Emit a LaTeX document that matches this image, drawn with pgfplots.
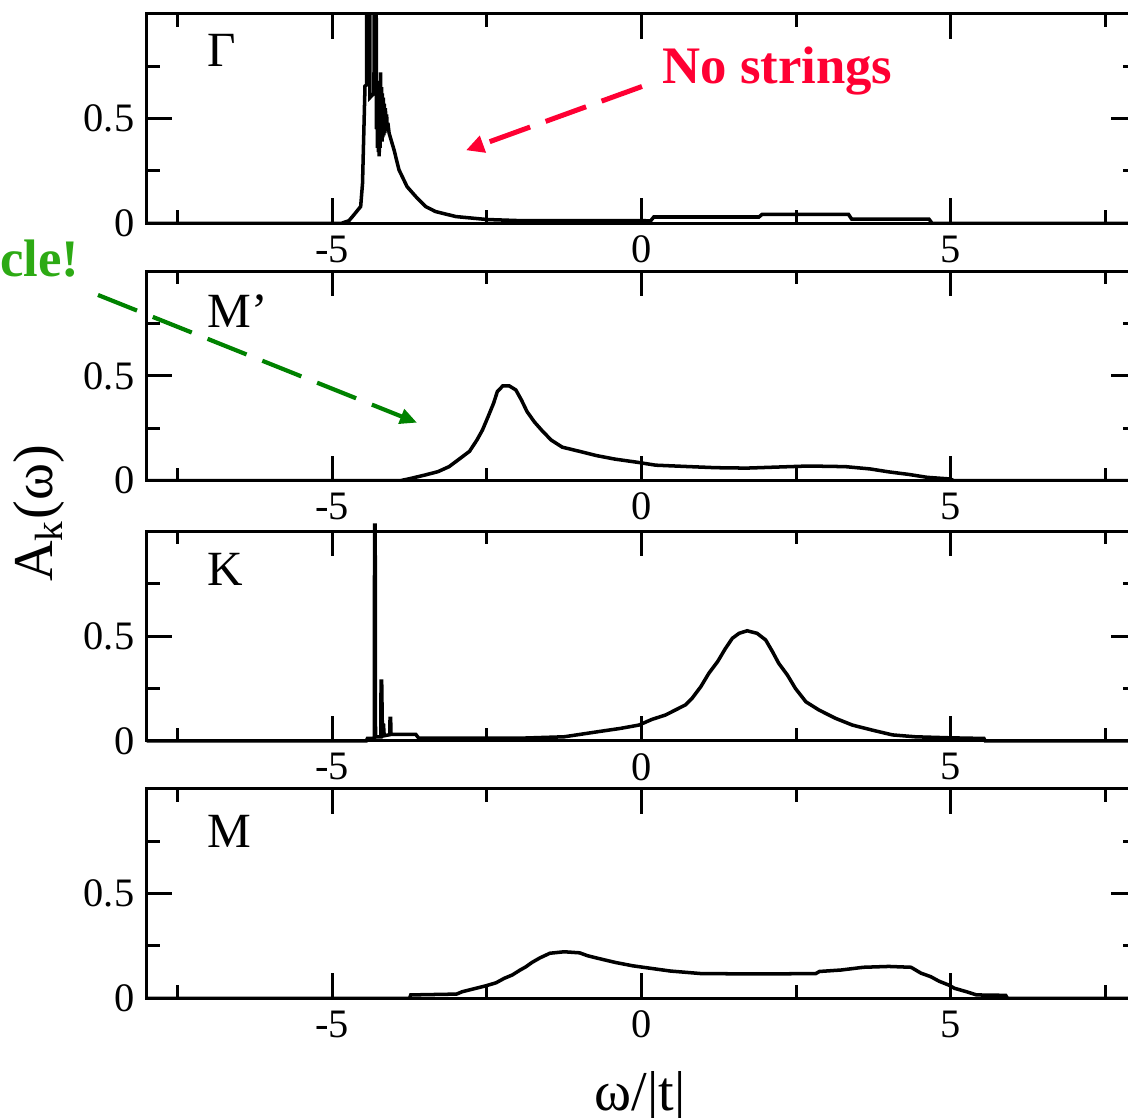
\documentclass[border=0pt]{standalone}
\usepackage{fontspec}
\setmainfont{Liberation Serif}
\usepackage{pgfplots}
\pgfplotsset{compat=1.18}
\usetikzlibrary{arrows.meta}
\definecolor{nsred}{RGB}{255,0,51}
\definecolor{qpgreen}{RGB}{45,170,20}
\definecolor{arrgreen}{RGB}{0,130,0}
\pgfplotsset{
  panel/.style={
    scale only axis, width=98.94mm, height=20.95mm,
    xmin=-8, xmax=8, ymin=0, ymax=1,
    xtick={-5,0,5}, xticklabels={-5,0,5},
    minor xtick={-7.5,-2.5,2.5,7.5},
    ytick={0,0.5}, yticklabels={0,0.5},
    minor ytick={0.25,0.75},
    major tick length=2.5mm, minor tick length=1.3mm,
    every tick/.style={line width=0.85pt, black},
    axis line style={line width=0.85pt},
    ticklabel style={font=\rmfamily\fontsize{11.5}{12}\selectfont},
    anchor=south west,
  },
  curve/.style={black, mark=none, line width=1.0pt, line join=miter},
}
\tikzset{plabel/.style={anchor=base west, font=\rmfamily\fontsize{14}{14}\selectfont, inner sep=0pt}}
\begin{document}
\begin{tikzpicture}
\path[use as bounding box, clip] (0,0) rectangle (112.8mm,111.8mm);

% Gamma
\begin{axis}[panel, at={(14.67mm,89.47mm)}]
\addplot[curve] coordinates {(-8,0) (-4.85,0) (-4.73,0.012) (-4.65,0.04) (-4.54,0.08) (-4.51,0.19) (-4.47,0.655) (-4.445,0.66) (-4.44,1.3) (-4.395,1.3) (-4.39,0.6) (-4.325,0.62) (-4.32,1.3) (-4.29,1.3) (-4.285,0.45) (-4.275,0.62) (-4.27,0.36) (-4.262,0.66) (-4.255,0.34) (-4.248,0.63) (-4.24,0.32) (-4.232,0.68) (-4.225,0.36) (-4.218,0.72) (-4.21,0.40) (-4.202,0.65) (-4.195,0.39) (-4.188,0.62) (-4.18,0.41) (-4.172,0.60) (-4.164,0.42) (-4.156,0.57) (-4.148,0.43) (-4.14,0.55) (-4.13,0.44) (-4.12,0.52) (-4.11,0.44) (-4.10,0.48) (-4.08,0.43) (-4.0,0.35) (-3.92,0.255) (-3.79,0.175) (-3.65,0.128) (-3.49,0.08) (-3.33,0.056) (-3.0,0.032) (-2.5,0.018) (-2.0,0.013) (0.15,0.012) (0.2,0.03) (1.9,0.03) (1.95,0.042) (3.35,0.042) (3.4,0.02) (4.65,0.02) (4.7,0) (8,0)};
\node[plabel] at (axis cs:-7.03,0.75) {Γ};
\end{axis}

% M'
\begin{axis}[panel, at={(14.67mm,63.73mm)}]
\addplot[curve] coordinates {(-8,0) (-3.9,0) (-3.74,0.01) (-3.5,0.027) (-3.29,0.043) (-3.11,0.067) (-2.96,0.10) (-2.78,0.14) (-2.66,0.194) (-2.57,0.242) (-2.48,0.305) (-2.39,0.37) (-2.33,0.425) (-2.24,0.453) (-2.14,0.453) (-2.03,0.433) (-1.94,0.385) (-1.85,0.33) (-1.73,0.28) (-1.61,0.24) (-1.46,0.194) (-1.28,0.16) (-1.03,0.142) (-0.73,0.12) (-0.43,0.103) (-0.07,0.088) (0.23,0.074) (0.7,0.068) (1.2,0.062) (1.7,0.06) (2.1,0.064) (2.7,0.07) (3.3,0.067) (3.7,0.056) (4.0,0.042) (4.32,0.03) (4.62,0.016) (5.0,0.008) (5.05,0) (8,0)};
\node[plabel] at (axis cs:-7.03,0.73) {M’};
\end{axis}

% K
\begin{axis}[panel, at={(14.67mm,37.7mm)}, clip=false]
\addplot[curve] coordinates {(-8,0) (-4.45,0) (-4.43,0.012) (-4.32,0.012) (-4.315,1.03) (-4.305,1.03) (-4.30,0.02) (-4.215,0.02) (-4.21,0.286) (-4.2,0.286) (-4.19,0.076) (-4.17,0.076) (-4.16,0.025) (-4.07,0.03) (-4.065,0.108) (-4.055,0.108) (-4.05,0.032) (-3.65,0.032) (-3.6,0.013) (-2,0.013) (-1.25,0.02) (-0.71,0.044) (-0.34,0.06) (-0.04,0.076) (0.17,0.103) (0.39,0.124) (0.55,0.148) (0.71,0.172) (0.82,0.204) (0.96,0.259) (1.09,0.323) (1.23,0.378) (1.36,0.442) (1.47,0.49) (1.58,0.514) (1.71,0.526) (1.87,0.514) (2.01,0.482) (2.12,0.426) (2.22,0.371) (2.36,0.315) (2.49,0.251) (2.66,0.187) (2.87,0.148) (3.14,0.108) (3.41,0.076) (3.73,0.052) (4.06,0.029) (4.43,0.02) (5.0,0.015) (5.54,0.012) (5.56,0) (8,0)};
\node[plabel] at (axis cs:-7.03,0.74) {K};
\end{axis}

% M
\begin{axis}[panel, at={(14.67mm,11.97mm)}]
\addplot[curve] coordinates {(-8,0) (-3.75,0) (-3.73,0.016) (-2.99,0.02) (-2.9,0.031) (-2.67,0.048) (-2.51,0.06) (-2.35,0.074) (-2.22,0.095) (-2.09,0.111) (-1.96,0.135) (-1.87,0.15) (-1.77,0.171) (-1.64,0.193) (-1.48,0.215) (-1.25,0.222) (-1.0,0.217) (-0.87,0.203) (-0.65,0.187) (-0.42,0.171) (-0.14,0.155) (0.15,0.143) (0.47,0.13) (0.96,0.118) (1.9,0.116) (2.82,0.118) (2.88,0.128) (3.23,0.135) (3.59,0.148) (4.0,0.152) (4.36,0.148) (4.52,0.12) (4.68,0.103) (4.81,0.082) (4.97,0.063) (5.06,0.048) (5.26,0.031) (5.42,0.016) (5.89,0.014) (5.92,0) (8,0)};
\node[plabel] at (axis cs:-7.03,0.72) {M};
\end{axis}

% axis labels
\node[rotate=90, anchor=base, font=\rmfamily\fontsize{16}{16}\selectfont, inner sep=0pt] at (5.3mm,60.45mm) {A\textsubscript{k}(ω)};
\node[anchor=base, font=\rmfamily\fontsize{16}{16}\selectfont, inner sep=0pt] at (64.0mm,0.7mm) {ω/|t|};

% annotations
\node[anchor=base west, text=nsred, font=\rmfamily\bfseries\fontsize{15}{15}\selectfont, inner sep=0pt] at (66.17mm,103.4mm) {No strings};
\draw[nsred, line width=0.5mm, dash pattern=on 4.3mm off 1.65mm, -{Triangle[length=1.8mm,width=1.7mm]}] (64.2mm,103.15mm) -- (46.6mm,96.77mm);
\node[anchor=base east, text=qpgreen, font=\rmfamily\bfseries\fontsize{15}{15}\selectfont, inner sep=0pt] at (8.0mm,84.1mm) {cle!};
\draw[arrgreen, line width=0.42mm, dash pattern=on 4.2mm off 1.7mm, -{Triangle[length=1.7mm,width=1.5mm]}] (9.8mm,82.3mm) -- (41.7mm,69.53mm);
\end{tikzpicture}
\end{document}
